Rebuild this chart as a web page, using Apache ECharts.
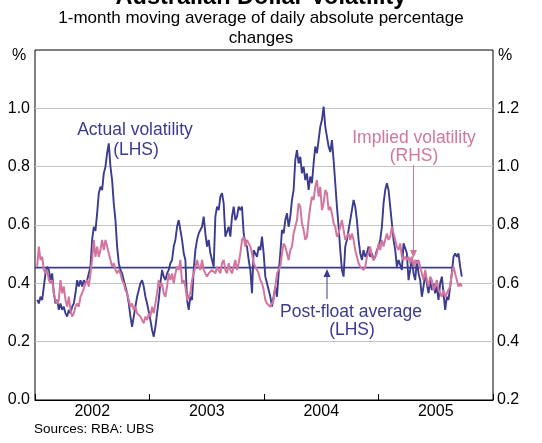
<!DOCTYPE html>
<html>
<head>
<meta charset="utf-8">
<script src="https://cdn.jsdelivr.net/npm/echarts@6/dist/echarts.min.js"></script>
<style>
  html, body { margin: 0; padding: 0; background: #fff; }
  #chart { width: 542px; height: 443px; }
</style>
</head>
<body>
<div id="chart"></div>
<script>
// ---------------- DATA ----------------
const titleText = 'Australian Dollar Volatility';
const subtitleLines = ['1-month moving average of daily absolute percentage', 'changes'];
const sourceText = 'Sources: RBA: UBS';
const yearLabels = [2002, 2003, 2004, 2005];

// sampling grid of the readings (decimal years)
const firstSample = 2002.019;
const sampleStep = 0.014544;

// Actual volatility, % (LHS)
const actual = [
  0.343,0.331,0.354,0.343,0.389,0.434,0.457,0.446,0.411,0.434,0.366,0.331,0.343,0.309,0.331,0.309,0.320,0.297,0.286,0.309,
  0.297,0.320,0.331,0.366,0.411,0.389,0.411,0.389,0.411,0.400,0.411,0.434,0.457,0.549,0.594,0.580,0.640,0.709,0.731,0.720,
  0.777,0.800,0.846,0.880,0.800,0.754,0.674,0.617,0.526,0.469,0.446,0.434,0.411,0.389,0.366,0.331,0.286,0.251,0.286,0.320,
  0.354,0.377,0.400,0.411,0.389,0.354,0.331,0.303,0.274,0.240,0.217,0.251,0.297,0.343,0.400,0.446,0.423,0.411,0.434,0.446,
  0.469,0.480,0.526,0.549,0.594,0.617,0.617,0.549,0.503,0.480,0.343,0.309,0.354,0.343,0.446,0.514,0.549,0.571,0.583,0.594,
  0.629,0.571,0.526,0.549,0.503,0.480,0.457,0.629,0.663,0.651,0.697,0.709,0.674,0.560,0.560,0.594,0.560,0.629,0.663,0.617,
  0.629,0.663,0.651,0.663,0.571,0.537,0.526,0.480,0.446,0.366,0.514,0.514,0.491,0.526,0.514,0.560,0.503,0.423,0.400,0.377,
  0.354,0.320,0.354,0.389,0.354,0.434,0.503,0.583,0.571,0.617,0.640,0.594,0.629,0.686,0.720,0.823,0.857,0.811,0.834,0.777,
  0.800,0.754,0.777,0.720,0.766,0.743,0.811,0.869,0.846,0.891,0.937,0.960,1.006,0.937,0.903,0.869,0.850,0.891,0.823,0.743,
  0.663,0.594,0.514,0.446,0.423,0.526,0.549,0.583,0.617,0.651,0.686,0.663,0.617,0.549,0.503,0.480,0.514,0.491,0.503,0.526,
  0.491,0.503,0.480,0.491,0.514,0.526,0.549,0.594,0.674,0.720,0.743,0.720,0.663,0.606,0.549,0.514,0.457,0.480,0.480,0.446,
  0.537,0.537,0.503,0.411,0.446,0.491,0.434,0.411,0.480,0.434,0.411,0.354,0.389,0.434,0.400,0.366,0.411,0.377,0.400,0.366,
  0.389,0.343,0.400,0.423,0.366,0.309,0.354,0.343,0.389,0.434,0.491,0.503,0.491,0.503,0.457,0.423
];

// Implied volatility, % (RHS)
const implied = [
  0.657,0.726,0.680,0.691,0.646,0.634,0.646,0.611,0.600,0.611,0.566,0.543,0.531,0.543,0.611,0.566,0.589,0.543,0.520,0.554,
  0.509,0.486,0.497,0.520,0.531,0.520,0.554,0.566,0.566,0.600,0.611,0.589,0.634,0.680,0.749,0.691,0.726,0.691,0.714,0.749,
  0.714,0.749,0.726,0.703,0.680,0.657,0.669,0.646,0.634,0.646,0.634,0.611,0.600,0.577,0.566,0.543,0.520,0.531,0.509,0.520,
  0.497,0.497,0.486,0.474,0.463,0.486,0.474,0.497,0.486,0.520,0.497,0.531,0.566,0.611,0.589,0.600,0.566,0.554,0.589,0.634,
  0.611,0.634,0.600,0.634,0.657,0.646,0.680,0.600,0.611,0.589,0.543,0.543,0.566,0.611,0.634,0.657,0.680,0.657,0.646,0.680,
  0.646,0.634,0.623,0.634,0.634,0.646,0.646,0.634,0.657,0.657,0.634,0.669,0.680,0.646,0.634,0.669,0.646,0.634,0.657,0.680,
  0.646,0.669,0.703,0.749,0.760,0.726,0.749,0.737,0.726,0.703,0.669,0.657,0.646,0.634,0.611,0.600,0.577,0.543,0.531,0.531,
  0.520,0.531,0.543,0.589,0.634,0.646,0.657,0.703,0.737,0.726,0.703,0.680,0.714,0.726,0.771,0.794,0.817,0.874,0.863,0.806,
  0.783,0.749,0.760,0.817,0.863,0.897,0.886,0.931,0.954,0.897,0.931,0.851,0.874,0.920,0.909,0.851,0.863,0.840,0.806,0.794,
  0.760,0.771,0.794,0.817,0.783,0.749,0.760,0.771,0.749,0.771,0.749,0.714,0.691,0.669,0.657,0.651,0.646,0.657,0.691,0.703,
  0.726,0.691,0.680,0.691,0.703,0.737,0.714,0.749,0.726,0.749,0.771,0.749,0.760,0.794,0.771,0.749,0.726,0.714,0.737,0.691,
  0.680,0.691,0.680,0.691,0.669,0.691,0.657,0.680,0.669,0.680,0.657,0.634,0.611,0.646,0.611,0.589,0.623,0.611,0.577,0.589,
  0.611,0.577,0.566,0.554,0.577,0.554,0.566,0.566,0.589,0.634,0.657,0.634,0.611,0.589,0.600,0.589
];

// Post-float average of actual volatility, % (LHS), and the span it is drawn over
const postFloatAverage = 0.454;
const postFloatSpan = [2002.0, 2005.65];

// ---------------- CHART ----------------
const dates = actual.map((_, i) => +(firstSample + i * sampleStep).toFixed(4));
const actualData = dates.map((d, i) => [d, actual[i]]);
const impliedData = dates.map((d, i) => [d, implied[i]]);
const avgData = postFloatSpan.map(d => [d, postFloatAverage]);

const BLUE = '#3b3b8f';
const PINK = '#d3769f';
const FONT = '"Liberation Sans", Arial, Helvetica, sans-serif';

const chart = echarts.init(document.getElementById('chart'), null, { renderer: 'canvas' });

const G = { left: 35, right: 49, top: 50, bottom: 43 };
const CX = 261;

chart.setOption({
  animation: false,
  backgroundColor: '#ffffff',
  grid: { left: G.left, right: G.right, top: G.top, bottom: G.bottom, show: true, borderColor: '#000', borderWidth: 1, backgroundColor: 'transparent' },
  xAxis: [
    {
      type: 'value', min: 2002, max: 2006, interval: 1,
      axisLine: { show: true, lineStyle: { color: '#000', width: 1 } },
      axisTick: { show: true, inside: true, length: 6, lineStyle: { color: '#000' } },
      axisLabel: { show: false },
      splitLine: { show: false }
    },
    {
      type: 'value', min: 2002, max: 2006, interval: 0.5, position: 'bottom',
      axisLine: { show: false }, axisTick: { show: false }, splitLine: { show: false },
      axisLabel: {
        show: true, margin: 4, color: '#000', fontSize: 16, fontFamily: FONT,
        formatter: v => (Math.abs(v % 1 - 0.5) < 1e-6 && yearLabels.indexOf(Math.floor(v)) >= 0) ? String(Math.floor(v)) : ''
      }
    }
  ],
  yAxis: [
    {
      type: 'value', min: 0, max: 1.2, interval: 0.2, position: 'left',
      axisLine: { show: false }, axisTick: { show: false },
      axisLabel: { color: '#000', fontSize: 16, fontFamily: FONT, margin: 5,
        formatter: v => v >= 1.19 ? '' : v.toFixed(1) },
      splitLine: { show: true, showMinLine: false, showMaxLine: false, lineStyle: { color: '#c4c4c4', width: 1 } }
    },
    {
      type: 'value', min: 0.2, max: 1.4, interval: 0.2, position: 'right',
      axisLine: { show: false }, axisTick: { show: false },
      axisLabel: { color: '#000', fontSize: 16, fontFamily: FONT, margin: 4,
        formatter: v => v >= 1.39 ? '' : v.toFixed(1) },
      splitLine: { show: false }
    }
  ],
  series: [
    {
      name: 'Post-float average', type: 'line', xAxisIndex: 0, yAxisIndex: 0,
      data: avgData, symbol: 'none', lineStyle: { color: BLUE, width: 1.6 }, z: 2
    },
    {
      name: 'Actual volatility', type: 'line', xAxisIndex: 0, yAxisIndex: 0,
      data: actualData, symbol: 'none', lineStyle: { color: BLUE, width: 1.9 }, z: 3
    },
    {
      name: 'Implied volatility', type: 'line', xAxisIndex: 0, yAxisIndex: 1,
      data: impliedData, symbol: 'none', lineStyle: { color: PINK, width: 2 }, z: 4
    }
  ],
  graphic: [
    { type: 'text', z: 10, style: { text: titleText, x: CX, y: -2, align: 'center', verticalAlign: 'middle', font: 'bold 23.5px ' + FONT, fill: '#000' } },
    { type: 'text', z: 10, style: { text: subtitleLines[0], x: CX, y: 18, align: 'center', verticalAlign: 'middle', font: '17px ' + FONT, fill: '#000' } },
    { type: 'text', z: 10, style: { text: subtitleLines[1], x: CX, y: 38, align: 'center', verticalAlign: 'middle', font: '17px ' + FONT, fill: '#000' } },
    { type: 'text', z: 10, style: { text: '%', x: 19, y: 56, align: 'center', verticalAlign: 'middle', font: '16px ' + FONT, fill: '#000' } },
    { type: 'text', z: 10, style: { text: '%', x: 505, y: 56, align: 'center', verticalAlign: 'middle', font: '16px ' + FONT, fill: '#000' } },
    { type: 'text', z: 10, style: { text: sourceText, x: 34, y: 429, align: 'left', verticalAlign: 'middle', font: '13.5px ' + FONT, fill: '#000' } },
    // annotations
    { type: 'text', z: 10, style: { text: 'Actual volatility', x: 135, y: 130, align: 'center', verticalAlign: 'middle', font: '17.5px ' + FONT, fill: BLUE } },
    { type: 'text', z: 10, style: { text: '(LHS)', x: 136, y: 150, align: 'center', verticalAlign: 'middle', font: '17.5px ' + FONT, fill: BLUE } },
    { type: 'text', z: 10, style: { text: 'Implied volatility', x: 414, y: 138, align: 'center', verticalAlign: 'middle', font: '17.5px ' + FONT, fill: PINK } },
    { type: 'text', z: 10, style: { text: '(RHS)', x: 414, y: 156, align: 'center', verticalAlign: 'middle', font: '17.5px ' + FONT, fill: PINK } },
    { type: 'line', z: 10, shape: { x1: 413.5, y1: 165, x2: 413.5, y2: 252 }, style: { stroke: PINK, lineWidth: 1 } },
    { type: 'polygon', z: 10, shape: { points: [[410, 250], [417, 250], [413.5, 258]] }, style: { fill: PINK } },
    { type: 'text', z: 10, style: { text: 'Post-float average', x: 351, y: 312, align: 'center', verticalAlign: 'middle', font: '17.5px ' + FONT, fill: BLUE } },
    { type: 'text', z: 10, style: { text: '(LHS)', x: 352, y: 330, align: 'center', verticalAlign: 'middle', font: '17.5px ' + FONT, fill: BLUE } },
    { type: 'line', z: 10, shape: { x1: 327, y1: 299, x2: 327, y2: 274 }, style: { stroke: BLUE, lineWidth: 1 } },
    { type: 'polygon', z: 10, shape: { points: [[323.5, 277], [330.5, 277], [327, 269]] }, style: { fill: BLUE } }
  ]
});
</script>
</body>
</html>
